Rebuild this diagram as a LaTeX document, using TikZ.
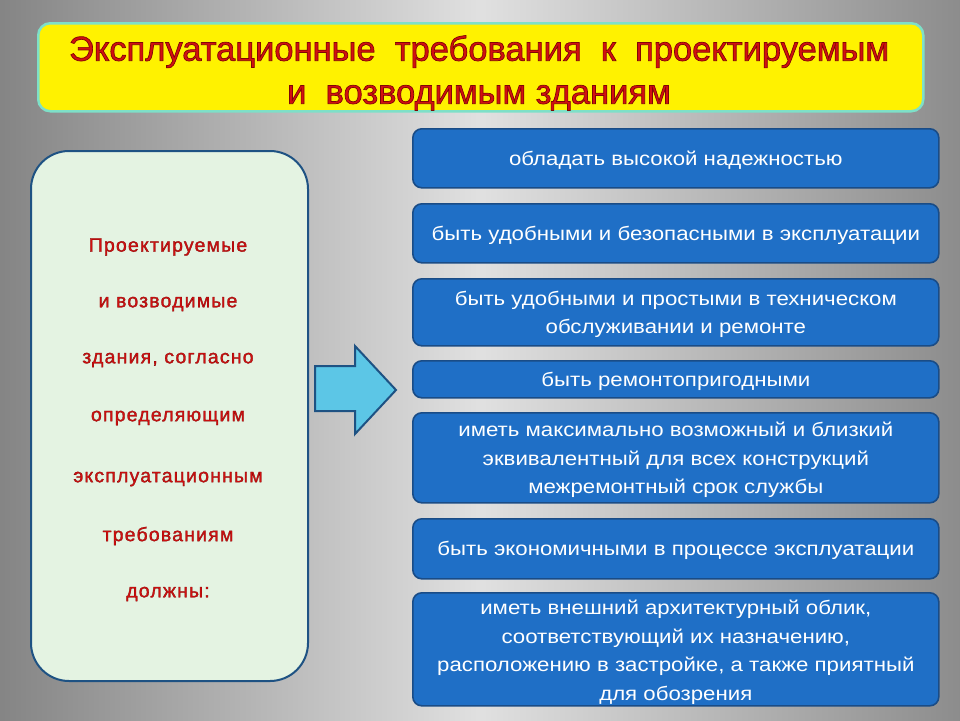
\documentclass[tikz,border=0pt]{standalone}
\usepackage{fontspec}
\setmainfont{Liberation Sans}
\newfontfamily\widefont[FakeStretch=1.14]{Liberation Sans}
\newfontfamily\spacedfont[LetterSpace=6]{Liberation Sans}
\definecolor{boxblue}{HTML}{1F6FC6}
\definecolor{boxedge}{HTML}{1A4C86}
\definecolor{leftfill}{HTML}{E4F3E2}
\definecolor{leftedge}{HTML}{1E5283}
\definecolor{titlered}{HTML}{D21010}
\definecolor{arrowfill}{HTML}{5CC6E6}
\definecolor{titleedge}{HTML}{7EE0C8}
\newcommand{\outlined}[2]{\special{pdf:code 2 Tr #1 w 0.5 0.02 0.02 RG}#2\special{pdf:code 0 Tr}}
\tikzset{
  reqbox/.style={draw=boxedge, line width=1.6pt, fill=boxblue, rounded corners=9pt},
  reqtext/.style={text=white, font=\widefont\fontsize{19.5}{28.5}\selectfont, align=center},
  lefttext/.style={text=titlered, font=\spacedfont\fontsize{19.5}{20}\selectfont},
}
\begin{document}
\begin{tikzpicture}[x=1pt,y=-1pt]
\useasboundingbox (0,0) rectangle (960,720);
\shade[left color=black!48, right color=black!45, middle color=black!12] (0,0) rectangle (960,720);
% title
\node[draw=titleedge, line width=2.5pt, fill=yellow, rounded corners=12pt, minimum width=885pt, minimum height=88pt, anchor=north west] (title) at (37,22) {};
\node[text=titlered, font=\fontsize{34.5}{43}\selectfont, align=center] (titletext) at (479,73) {\outlined{0.7}{Эксплуатационные\ \ требования\ \ к\ \ проектируемым}\\\outlined{0.7}{и\ \ возводимым зданиям}};
% left box
\node[draw=leftedge, line width=2pt, fill=leftfill, rounded corners=38pt, minimum width=277pt, minimum height=530pt, anchor=north west] (left) at (30,150) {};
\node[lefttext] (l1) at (168,247) {\outlined{0.25}{Проектируемые}};
\node[lefttext] (l2) at (168,304) {\outlined{0.25}{и возводимые}};
\node[lefttext] (l3) at (168,360) {\outlined{0.25}{здания, согласно}};
\node[lefttext] (l4) at (168,418) {\outlined{0.25}{определяющим}};
\node[lefttext] (l5) at (168,479) {\outlined{0.25}{эксплуатационным}};
\node[lefttext] (l6) at (168,536) {\outlined{0.25}{требованиям}};
\node[lefttext] (l7) at (168,594) {\outlined{0.25}{должны:}};
% arrow
\draw[draw=leftedge, line width=2pt, fill=arrowfill, line join=miter] (315,366) -- (355,366) -- (355,346) -- (396,390) -- (355,434) -- (355,411) -- (315,411) -- cycle;
\coordinate (arrowtip) at (396,390);
% right boxes
\node[reqbox, minimum width=526pt, minimum height=59pt, anchor=north west] (r1) at (412,128) {};
\node[reqtext] at ([yshift=-2pt]r1.center) {обладать высокой надежностью};
\node[reqbox, minimum width=526pt, minimum height=59pt, anchor=north west] (r2) at (412,203) {};
\node[reqtext] at ([yshift=-2pt]r2.center) {быть удобными и безопасными в эксплуатации};
\node[reqbox, minimum width=526pt, minimum height=67pt, anchor=north west] (r3) at (412,278) {};
\node[reqtext] at ([yshift=-2pt]r3.center) {быть удобными и простыми в техническом\\обслуживании и ремонте};
\node[reqbox, minimum width=526pt, minimum height=37pt, anchor=north west] (r4) at (412,360) {};
\node[reqtext] at ([yshift=-2pt]r4.center) {быть ремонтопригодными};
\node[reqbox, minimum width=526pt, minimum height=90pt, anchor=north west] (r5) at (412,412) {};
\node[reqtext] at ([yshift=-2pt]r5.center) {иметь максимально возможный и близкий\\эквивалентный для всех конструкций\\межремонтный срок службы};
\node[reqbox, minimum width=526pt, minimum height=60pt, anchor=north west] (r6) at (412,518) {};
\node[reqtext] at ([yshift=-2pt]r6.center) {быть экономичными в процессе эксплуатации};
\node[reqbox, minimum width=526pt, minimum height=113pt, anchor=north west] (r7) at (412,592) {};
\node[reqtext] at ([yshift=-3pt]r7.center) {иметь внешний архитектурный облик,\\соответствующий их назначению,\\расположению в застройке, а также приятный\\для обозрения};
\end{tikzpicture}
\end{document}
